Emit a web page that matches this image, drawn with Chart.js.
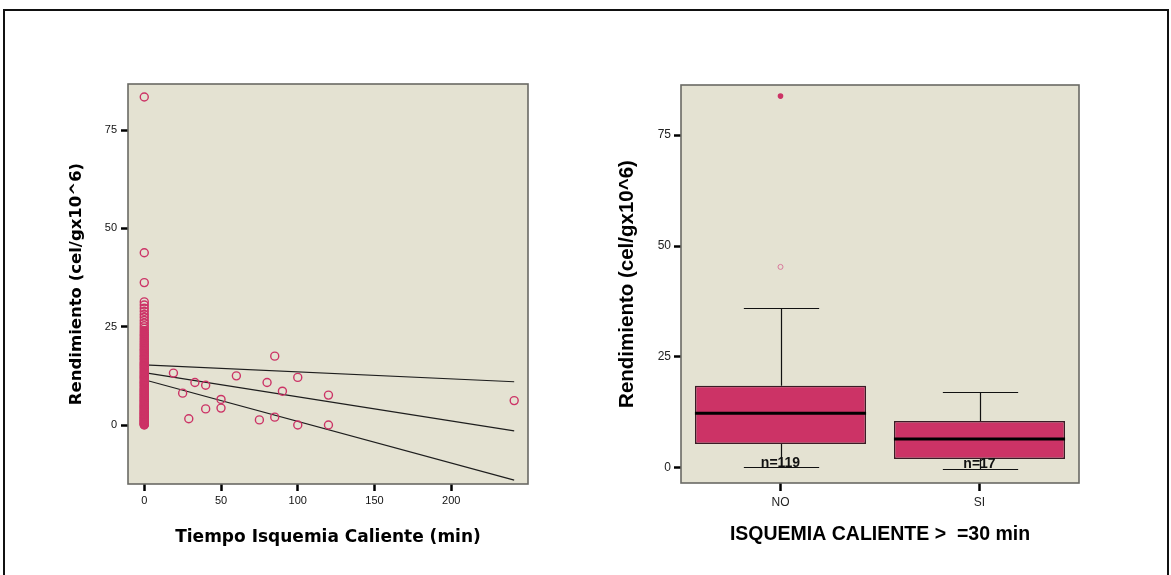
<!DOCTYPE html>
<html>
<head>
<meta charset="utf-8">
<script src="https://cdn.jsdelivr.net/npm/chart.js@4.4.1/dist/chart.umd.min.js"></script>
<style>
  body { margin: 0; background: #fff; }
  #wrap { position: relative; width: 1171px; height: 575px; overflow: hidden; }
  #frame { position: absolute; left: 3px; top: 9px; width: 1166px; height: 600px; border: 2px solid #111; box-sizing: border-box; }
  canvas { position: absolute; top: 0; }
  #left { left: 0; }
  #right { left: 600px; }
</style>
</head>
<body>
<div id="wrap">
  <div id="frame"></div>
  <canvas id="left" width="600" height="575"></canvas>
  <canvas id="right" width="571" height="575"></canvas>
</div>
<script>
const PINK = '#cc3366';
const PLOT_BG = '#e4e2d2';

// izquierda: rendimiento frente a tiempo de isquemia caliente
// casos con tiempo 0 (columna pegada al eje)
const zeroTimeYield = [0, 0.1, 0.2, 0.4, 0.5, 0.7, 0.9, 1.0, 1.2, 1.3, 1.5, 1.7, 1.9, 2.0, 2.2, 2.4, 2.6, 2.8, 2.9, 3.1,
  3.3, 3.5, 3.7, 3.9, 4.1, 4.3, 4.5, 4.7, 4.9, 5.1, 5.3, 5.5, 5.8, 6.0, 6.2, 6.4, 6.7, 6.9, 7.1, 7.4,
  7.6, 7.8, 8.1, 8.3, 8.6, 8.8, 9.1, 9.3, 9.6, 9.9, 10.1, 10.4, 10.7, 10.9, 11.2, 11.5, 11.8, 12.1, 12.3, 12.6,
  12.9, 13.2, 13.5, 13.8, 14.1, 14.4, 14.7, 15.0, 15.3, 15.6, 15.9, 16.3, 16.7, 17.0, 17.4, 17.7, 18.1, 18.5, 18.9, 19.2,
  19.6, 20.0, 20.4, 20.8, 21.2, 21.7, 22.1, 22.6, 23.0, 23.5, 24.0, 24.6, 25.2, 25.9, 26.6, 27.4, 28.1, 28.9, 29.7, 30.5,
  31.3, 36.2, 43.8, 83.4];
const warmTime = [19, 25, 29, 33, 40, 40, 50, 50, 60, 75, 80, 85, 85, 90, 100, 100, 120, 120, 241];
const warmYield = [13.2, 8.1, 1.6, 10.8, 10.1, 4.1, 6.5, 4.3, 12.5, 1.3, 10.8, 17.5, 2.0, 8.6, 12.1, 0, 7.6, 0, 6.2];
// recta de ajuste y bandas
const fitX = [0, 241];
const fitUpper = [15.3, 11.0];
const fitMean = [13.3, -1.5];
const fitLower = [11.5, -14.0];
const leftXTicks = [0, 50, 100, 150, 200];
const leftYTicks = [0, 25, 50, 75];

// derecha: boxplot por grupo
const groups = ['NO', 'SI'];
const boxQ1 = [5.4, 2.0];
const boxMedian = [12.3, 6.5];
const boxQ3 = [18.5, 10.6];
const whiskerLow = [0.1, -0.3];
const whiskerHigh = [36.1, 17.1];
const groupN = [119, 17];
const outlierNo = [45.3];
const extremeNo = [83.8];
const rightYTicks = [0, 25, 50, 75];

// fondo y marco del area del grafico
const plotFrame = {
    id: 'plotFrame',
    beforeDraw(chart) {
        const { ctx, chartArea: a } = chart;
        ctx.save();
        ctx.fillStyle = PLOT_BG;
        ctx.fillRect(a.left, a.top, a.width, a.height);
        ctx.restore();
    },
    afterDraw(chart) {
        const { ctx, chartArea: a } = chart;
        ctx.save();
        ctx.strokeStyle = '#6a6a64';
        ctx.lineWidth = 1.6;
        ctx.strokeRect(a.left, a.top, a.width, a.height);
        ctx.restore();
    }
};

const tickMarks = { drawOnChartArea: false, drawTicks: true, tickLength: 7, tickWidth: 2.5, tickColor: '#000' };

const toPoints = (xs, ys) => xs.map((x, i) => ({ x: x, y: ys[i] }));

const pointStyle = {
    showLine: false,
    pointRadius: 4,
    pointBorderWidth: 1.4,
    pointBorderColor: PINK,
    pointBackgroundColor: 'rgba(0,0,0,0)',
    order: 1
};

const fitLine = (ys) => ({
    type: 'line',
    data: toPoints(fitX, ys),
    borderColor: '#1e1e1e',
    borderWidth: 1.2,
    pointRadius: 0,
    showLine: true,
    order: 2
});

new Chart(document.getElementById('left'), {
    type: 'scatter',
    data: {
        datasets: [
            fitLine(fitUpper),
            fitLine(fitMean),
            fitLine(fitLower),
            {
                data: zeroTimeYield.map((v) => ({ x: 0, y: v })),
                ...pointStyle,
                // los circulos se solapan tanto que la columna se ve maciza
                pointBackgroundColor: (c) => (c.raw && c.raw.y < 24.5 ? PINK : 'rgba(0,0,0,0)')
            },
            { data: toPoints(warmTime, warmYield), ...pointStyle }
        ]
    },
    options: {
        responsive: false,
        animation: false,
        devicePixelRatio: 1,
        layout: { padding: { top: 84, right: 72, left: 0, bottom: 0 } },
        plugins: { legend: { display: false }, tooltip: { enabled: false } },
        scales: {
            x: {
                type: 'linear',
                min: -10.6,
                max: 250,
                afterBuildTicks: (s) => { s.ticks = leftXTicks.map((v) => ({ value: v })); },
                afterFit: (s) => { s.height = 91; },
                grid: tickMarks,
                border: { display: false },
                ticks: { padding: 3, color: '#111', font: { family: 'Arial', size: 11 } },
                title: {
                    display: true,
                    text: 'Tiempo Isquemia Caliente (min)',
                    color: '#000',
                    font: { family: 'DejaVu Sans', weight: 'bold', size: 17 },
                    padding: { bottom: 27 }
                }
            },
            y: {
                type: 'linear',
                min: -15,
                max: 86.7,
                afterBuildTicks: (s) => { s.ticks = leftYTicks.map((v) => ({ value: v })); },
                afterFit: (s) => { s.width = 128; },
                grid: tickMarks,
                border: { display: false },
                ticks: { padding: 4, color: '#111', font: { family: 'Arial', size: 11 } },
                title: {
                    display: true,
                    text: 'Rendimiento (cel/gx10^6)',
                    color: '#000',
                    font: { family: 'DejaVu Sans', weight: 'bold', size: 16.5 },
                    padding: { top: 67 }
                }
            }
        }
    },
    plugins: [plotFrame]
});

// bigotes, mediana y etiquetas n= del boxplot
const boxExtras = {
    id: 'boxExtras',
    beforeDatasetsDraw(chart) {
        const { ctx, scales: { x, y } } = chart;
        const boxes = chart.getDatasetMeta(0).data;
        ctx.save();
        ctx.strokeStyle = '#111';
        ctx.lineWidth = 1.2;
        groups.forEach((g, i) => {
            const cx = Math.round(x.getPixelForValue(i)) + 0.5;
            const half = boxes[i].width * 0.22;
            [[boxQ3[i], whiskerHigh[i]], [boxQ1[i], whiskerLow[i]]].forEach(([from, to]) => {
                const yEnd = Math.round(y.getPixelForValue(to)) + 0.5;
                ctx.beginPath();
                ctx.moveTo(cx, y.getPixelForValue(from));
                ctx.lineTo(cx, yEnd);
                ctx.moveTo(cx - half, yEnd);
                ctx.lineTo(cx + half, yEnd);
                ctx.stroke();
            });
        });
        ctx.restore();
    },
    afterDatasetsDraw(chart) {
        const { ctx, chartArea, scales: { x, y } } = chart;
        const boxes = chart.getDatasetMeta(0).data;
        ctx.save();
        groups.forEach((g, i) => {
            const cx = x.getPixelForValue(i);
            const half = boxes[i].width / 2;
            const ym = y.getPixelForValue(boxMedian[i]);
            ctx.strokeStyle = '#000';
            ctx.lineWidth = 3;
            ctx.beginPath();
            ctx.moveTo(cx - half, ym);
            ctx.lineTo(cx + half, ym);
            ctx.stroke();

            ctx.fillStyle = '#111';
            ctx.font = 'bold 14px Arial';
            ctx.textAlign = 'center';
            ctx.textBaseline = 'alphabetic';
            ctx.fillText('n=' + groupN[i], cx, chartArea.bottom - 16 + i);
        });
        ctx.restore();
    }
};

new Chart(document.getElementById('right'), {
    type: 'bar',
    data: {
        labels: groups,
        datasets: [
            {
                data: groups.map((g, i) => [boxQ1[i], boxQ3[i]]),
                backgroundColor: PINK,
                borderColor: '#3a1c26',
                borderWidth: 1.5,
                borderSkipped: false,
                barPercentage: 0.86,
                categoryPercentage: 1
            },
            {
                type: 'line',
                data: outlierNo.map((v) => ({ x: 'NO', y: v })),
                showLine: false,
                pointRadius: 2.5,
                pointBorderWidth: 1,
                pointBorderColor: '#d97a9c',
                pointBackgroundColor: 'rgba(0,0,0,0)'
            },
            {
                type: 'line',
                data: extremeNo.map((v) => ({ x: 'NO', y: v })),
                showLine: false,
                pointRadius: 2.8,
                pointBorderWidth: 0,
                pointBackgroundColor: PINK
            }
        ]
    },
    options: {
        responsive: false,
        animation: false,
        devicePixelRatio: 1,
        layout: { padding: { top: 85, right: 92, left: 0, bottom: 0 } },
        plugins: { legend: { display: false }, tooltip: { enabled: false } },
        scales: {
            x: {
                type: 'category',
                offset: true,
                afterFit: (s) => { s.height = 92; },
                grid: { ...tickMarks, offset: false, tickLength: 8 },
                border: { display: false },
                ticks: { padding: 4, color: '#222', font: { family: 'Arial', size: 12 } },
                title: {
                    display: true,
                    text: 'ISQUEMIA CALIENTE >  =30 min',
                    color: '#000',
                    font: { family: 'Arial', weight: 'bold', size: 19.5 },
                    padding: { bottom: 29 }
                }
            },
            y: {
                type: 'linear',
                min: -3.4,
                max: 86.3,
                afterBuildTicks: (s) => { s.ticks = rightYTicks.map((v) => ({ value: v })); },
                afterFit: (s) => { s.width = 81; },
                grid: tickMarks,
                border: { display: false },
                ticks: { padding: 3, color: '#222', font: { family: 'Arial', size: 12 } },
                title: {
                    display: true,
                    text: 'Rendimiento (cel/gx10^6)',
                    color: '#000',
                    font: { family: 'Arial', weight: 'bold', size: 20.5 },
                    padding: { top: 15 }
                }
            }
        }
    },
    plugins: [plotFrame, boxExtras]
});
</script>
</body>
</html>
